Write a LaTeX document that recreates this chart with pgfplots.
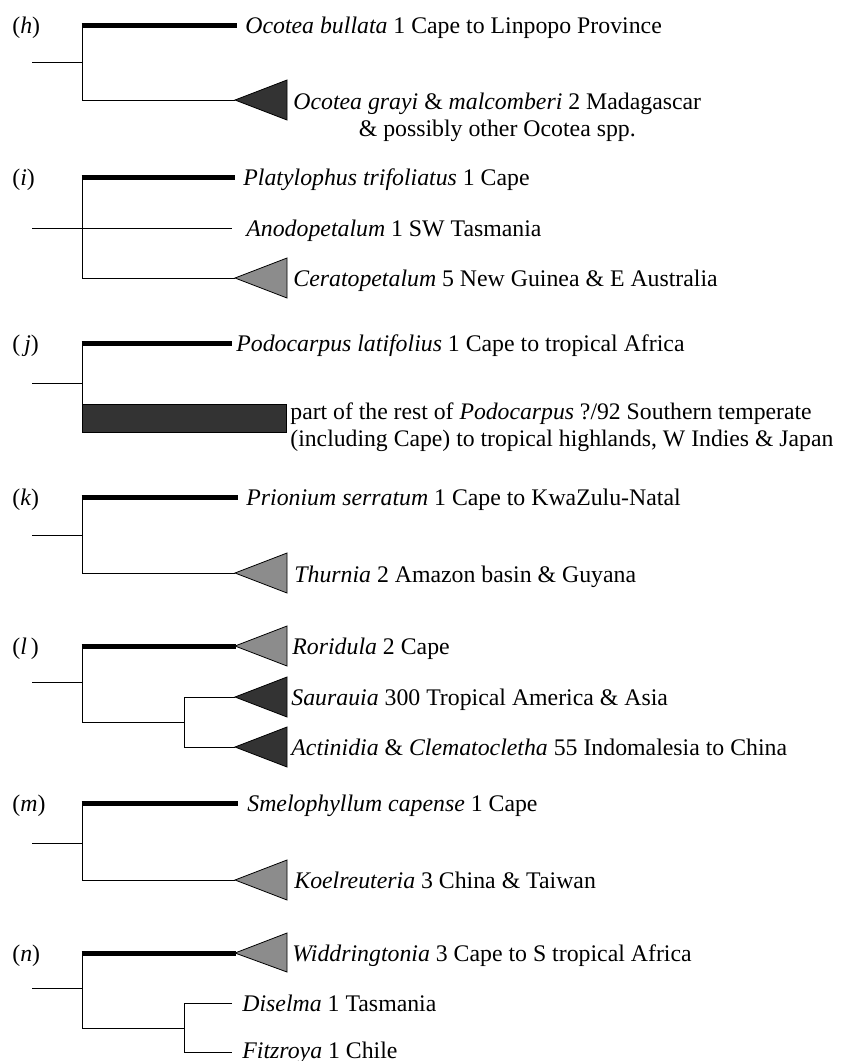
\documentclass[border=0pt]{standalone}
\usepackage{pgfplots}
\pgfplotsset{compat=1.18}
\usepackage{fontspec}
\setmainfont{Liberation Serif}
\definecolor{darkclade}{HTML}{333333}
\definecolor{grayclade}{HTML}{8C8C8C}
\newcommand{\tx}[3]{\node[anchor=base west, inner sep=0pt, yshift=-4pt] at (axis cs:#1,#2) {#3};}
\begin{document}
\rmfamily
\begin{tikzpicture}[font=\rmfamily\fontsize{11.9}{13.5}\selectfont]
\begin{axis}[
  x=0.5pt, y=0.5pt, y dir=reverse,
  xmin=0, xmax=841, ymin=0, ymax=1061,
  hide axis, clip=false, scale only axis,
  cycle list={{black, solid, mark=none, line width=0.6pt}},
]
\coordinate (ll) at (axis cs:0,1061);
\coordinate (ur) at (axis cs:841,0);
% ---------- (h)
\addplot coordinates {(32,62) (82,62)};
\addplot coordinates {(82,25) (82,100) (235,100)};
\addplot[line width=2.5pt] coordinates {(81.7,25) (237,25)};
\addplot[fill=darkclade, draw=black, line width=0.4pt] coordinates {(235,100) (287,80) (287,120)} --cycle;
% ---------- (i)
\addplot coordinates {(32,228) (232,228)};
\addplot coordinates {(82,177) (82,278) (235,278)};
\addplot[line width=2.5pt] coordinates {(81.7,177) (235,177)};
\addplot[fill=grayclade, draw=black, line width=0.4pt] coordinates {(235,278) (287,258) (287,298)} --cycle;
% ---------- (j)
\addplot coordinates {(32,383) (82,383)};
\addplot coordinates {(82,343) (82,404)};
\addplot[line width=2.5pt] coordinates {(81.7,343) (232,343)};
\addplot[fill=darkclade, draw=black, line width=0.4pt] coordinates {(82,404) (286,404) (286,432) (82,432)} --cycle;
% ---------- (k)
\addplot coordinates {(32,535) (82,535)};
\addplot coordinates {(82,497) (82,573) (235,573)};
\addplot[line width=2.5pt] coordinates {(81.7,497) (238,497)};
\addplot[fill=grayclade, draw=black, line width=0.4pt] coordinates {(235,573) (287,553) (287,593)} --cycle;
% ---------- (l)
\addplot coordinates {(32,682) (82,682)};
\addplot coordinates {(82,646) (82,722) (184,722)};
\addplot coordinates {(235,697) (184,697) (184,747) (235,747)};
\addplot[line width=2.5pt] coordinates {(81.7,646) (236,646)};
\addplot[fill=grayclade, draw=black, line width=0.4pt] coordinates {(235,646) (287,626) (287,666)} --cycle;
\addplot[fill=darkclade, draw=black, line width=0.4pt] coordinates {(235,697) (287,677) (287,717)} --cycle;
\addplot[fill=darkclade, draw=black, line width=0.4pt] coordinates {(235,747) (287,727) (287,767)} --cycle;
% ---------- (m)
\addplot coordinates {(32,843.4) (82,843.4)};
\addplot coordinates {(82,803) (82,880) (235,880)};
\addplot[line width=2.5pt] coordinates {(81.7,803) (238,803)};
\addplot[fill=grayclade, draw=black, line width=0.4pt] coordinates {(235,880) (287,860) (287,900)} --cycle;
% ---------- (n)
\addplot coordinates {(32,988.4) (82,988.4)};
\addplot coordinates {(82,953) (82,1028) (184,1028)};
\addplot coordinates {(232,1003) (184,1003) (184,1052) (232,1052)};
\addplot[line width=2.5pt] coordinates {(81.7,953) (236,953)};
\addplot[fill=grayclade, draw=black, line width=0.4pt] coordinates {(235,953) (287,933) (287,972)} --cycle;
% ---------- labels
\tx{12}{25}{(\textit{h})}
\tx{12}{177}{(\textit{i})}
\tx{12}{343}{(\,\textit{j})}
\tx{12}{497}{(\textit{k})}
\tx{12}{646}{(\textit{l}\,)}
\tx{12}{803}{(\textit{m})}
\tx{12}{953}{(\textit{n})}
% ---------- texts
\tx{245}{25}{\textit{Ocotea bullata} 1 Cape to Linpopo Province}
\node[anchor=base west, inner sep=0pt, yshift=-4pt] (og) at (axis cs:293,101) {\textit{Ocotea grayi} \& \textit{malcomberi} 2 Madagascar};
\node[anchor=base, inner sep=0pt, yshift=-13.5pt] at (og.base) {\& possibly other Ocotea spp.};
\tx{243}{177}{\textit{Platylophus trifoliatus} 1 Cape}
\tx{246}{228}{\textit{Anodopetalum} 1 SW Tasmania}
\tx{293}{278}{\textit{Ceratopetalum} 5 New Guinea \& E Australia}
\tx{236}{343}{\textit{Podocarpus latifolius} 1 Cape to tropical Africa}
\tx{290}{411}{\fontsize{11.85}{13.5}\selectfont part of the rest of \textit{Podocarpus} ?/92 Southern temperate}
\tx{290}{438}{\fontsize{11.85}{13.5}\selectfont (including Cape) to tropical highlands, W Indies \& Japan}
\tx{246}{497}{\textit{Prionium serratum} 1 Cape to KwaZulu-Natal}
\tx{294}{574}{\textit{Thurnia} 2 Amazon basin \& Guyana}
\tx{292}{646}{\textit{Roridula} 2 Cape}
\tx{291}{697}{\textit{Saurauia} 300 Tropical America \& Asia}
\tx{291}{747}{\textit{Actinidia} \& \textit{Clematocletha} 55 Indomalesia to China}
\tx{247}{803}{\textit{Smelophyllum capense} 1 Cape}
\tx{294}{880}{\textit{Koelreuteria} 3 China \& Taiwan}
\tx{292}{953}{\textit{Widdringtonia} 3 Cape to S tropical Africa}
\tx{242}{1003}{\textit{Diselma} 1 Tasmania}
\tx{242}{1050}{\textit{Fitzroya} 1 Chile}
\end{axis}
\pgfresetboundingbox
\path[use as bounding box] (ll) rectangle (ur);
\end{tikzpicture}
\end{document}
